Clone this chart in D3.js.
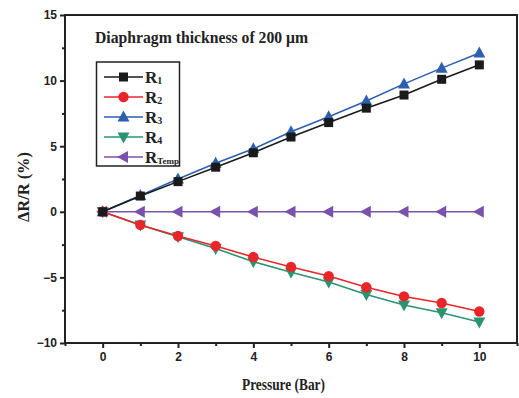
<!DOCTYPE html>
<html>
<head>
<meta charset="utf-8">
<script src="https://cdn.jsdelivr.net/npm/d3@7"></script>
<style>
  body { margin: 0; background: #fff; }
  #chart { width: 519px; height: 398px; }
</style>
</head>
<body>
<div id="chart"></div>
<script>
var pressure = [0, 1, 2, 3, 4, 5, 6, 7, 8, 9, 10];
var r1 = [0, 1.2, 2.3, 3.4, 4.5, 5.7, 6.8, 7.9, 8.9, 10.1, 11.2];
var r2 = [0, -1.0, -1.85, -2.6, -3.45, -4.2, -4.9, -5.75, -6.45, -6.95, -7.6];
var r3 = [0, 1.25, 2.5, 3.7, 4.8, 6.1, 7.25, 8.45, 9.75, 10.95, 12.1];
var r4 = [0, -1.0, -1.9, -2.8, -3.8, -4.6, -5.35, -6.3, -7.1, -7.7, -8.4];
var rTemp = [0, 0, 0, 0, 0, 0, 0, 0, 0, 0, 0];
var xTicks = [0, 2, 4, 6, 8, 10];
var yTicks = [-10, -5, 0, 5, 10, 15];

var series = [
    {name: "R", sub: "1", values: r1, color: "#1a1a1a", symbol: "square"},
    {name: "R", sub: "2", values: r2, color: "#e8262a", symbol: "circle"},
    {name: "R", sub: "3", values: r3, color: "#2d5fae", symbol: "up"},
    {name: "R", sub: "4", values: r4, color: "#2a9470", symbol: "down"},
    {name: "R", sub: "Temp", values: rTemp, color: "#7b52ab", symbol: "left"}
];

var width = 519, height = 398;
var margin = {left: 65, right: 2, top: 15, bottom: 55};

var svg = d3.select("#chart").append("svg")
    .attr("width", width)
    .attr("height", height);

var x = d3.scaleLinear().domain([-1, 11]).range([margin.left, width - margin.right]);
var y = d3.scaleLinear().domain([-10, 15]).range([height - margin.bottom, margin.top]);

var serif = "'Liberation Serif', 'DejaVu Serif', serif";
var sans = "'Liberation Sans', Arial, sans-serif";

// markers
function marker(g, sym, color) {
    if (sym === "square") {
        g.append("rect").attr("x", -4.5).attr("y", -4.5).attr("width", 9).attr("height", 9).attr("fill", color);
    } else if (sym === "circle") {
        g.append("circle").attr("r", 5.2).attr("fill", color);
    } else if (sym === "up") {
        g.append("path").attr("d", "M0,-6.5L6,4.5L-6,4.5Z").attr("fill", color);
    } else if (sym === "down") {
        g.append("path").attr("d", "M0,6.5L6,-4.5L-6,-4.5Z").attr("fill", color);
    } else if (sym === "left") {
        g.append("path").attr("d", "M-6.5,0L4.5,-6L4.5,6Z").attr("fill", color);
    }
}

var line = d3.line()
    .x(function(d) { return x(d[0]); })
    .y(function(d) { return y(d[1]); });

// draw in reverse so R1 ends on top like the original
series.slice().reverse().forEach(function(s) {
    var pts = pressure.map(function(p, i) { return [p, s.values[i]]; });
    svg.append("path")
        .datum(pts)
        .attr("fill", "none")
        .attr("stroke", s.color)
        .attr("stroke-width", 1.6)
        .attr("d", line);
    pts.forEach(function(p) {
        var g = svg.append("g").attr("transform", "translate(" + x(p[0]) + "," + y(p[1]) + ")");
        marker(g, s.symbol, s.color);
    });
});

// frame
svg.append("rect")
    .attr("x", x(-1)).attr("y", y(15))
    .attr("width", x(11) - x(-1)).attr("height", y(-10) - y(15))
    .attr("fill", "none").attr("stroke", "#222").attr("stroke-width", 2);

// axes
var xAxis = d3.axisBottom(x).tickValues(xTicks).tickSize(5).tickPadding(4).tickFormat(d3.format("d"));
var gx = svg.append("g").attr("transform", "translate(0," + y(-10) + ")").call(xAxis);
gx.select(".domain").remove();
gx.selectAll("line").attr("stroke", "#222").attr("stroke-width", 2);
gx.selectAll("text").attr("font-family", sans).attr("font-weight", "bold").attr("font-size", 12).attr("fill", "#222");

var xMinor = d3.axisBottom(x).tickValues([-1, 1, 3, 5, 7, 9, 11]).tickSize(3).tickFormat("");
var gxm = svg.append("g").attr("transform", "translate(0," + y(-10) + ")").call(xMinor);
gxm.select(".domain").remove();
gxm.selectAll("line").attr("stroke", "#222").attr("stroke-width", 2);

var yAxis = d3.axisLeft(y).tickValues(yTicks).tickSize(5).tickPadding(3);
var gy = svg.append("g").attr("transform", "translate(" + x(-1) + ",0)").call(yAxis);
gy.select(".domain").remove();
gy.selectAll("line").attr("stroke", "#222").attr("stroke-width", 2);
gy.selectAll("text").attr("font-family", sans).attr("font-weight", "bold").attr("font-size", 12).attr("fill", "#222");

var yMinor = d3.axisLeft(y).tickValues([-7.5, -2.5, 2.5, 7.5, 12.5]).tickSize(3).tickFormat("");
var gym = svg.append("g").attr("transform", "translate(" + x(-1) + ",0)").call(yMinor);
gym.select(".domain").remove();
gym.selectAll("line").attr("stroke", "#222").attr("stroke-width", 2);

// axis titles
svg.append("text")
    .attr("x", 242).attr("y", 390)
    .attr("textLength", 83).attr("lengthAdjust", "spacingAndGlyphs")
    .attr("font-family", serif).attr("font-weight", "bold").attr("font-size", 16)
    .attr("fill", "#222")
    .text("Pressure (Bar)");

svg.append("text")
    .attr("transform", "translate(29,222) rotate(-90)")
    .attr("textLength", 70).attr("lengthAdjust", "spacingAndGlyphs")
    .attr("font-family", serif).attr("font-weight", "bold").attr("font-size", 16)
    .attr("fill", "#222")
    .text("ΔR/R (%)");

// title
svg.append("text")
    .attr("x", 95).attr("y", 43)
    .attr("textLength", 213).attr("lengthAdjust", "spacingAndGlyphs")
    .attr("font-family", serif).attr("font-weight", "bold").attr("font-size", 16)
    .attr("fill", "#222")
    .text("Diaphragm thickness of 200 μm");

// legend
var legend = svg.append("g");
legend.append("rect")
    .attr("x", 96.5).attr("y", 62).attr("width", 83).attr("height", 104)
    .attr("fill", "#fff").attr("stroke", "#222").attr("stroke-width", 1.5);

series.forEach(function(s, i) {
    var ly = 77 + i * 20;
    legend.append("line")
        .attr("x1", 104).attr("x2", 143).attr("y1", ly).attr("y2", ly)
        .attr("stroke", s.color).attr("stroke-width", 1.6);
    var g = legend.append("g").attr("transform", "translate(123.5," + ly + ")");
    marker(g, s.symbol, s.color);
    var t = legend.append("text")
        .attr("x", 145).attr("y", ly + 6)
        .attr("font-family", serif).attr("font-weight", "bold").attr("font-size", 17)
        .attr("fill", "#222");
    t.append("tspan").text(s.name);
    t.append("tspan").attr("font-size", s.sub.length > 1 ? 9 : 10).attr("dy", 1).text(s.sub);
});
</script>
</body>
</html>
